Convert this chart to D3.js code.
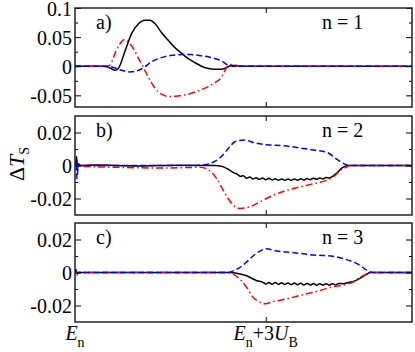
<!DOCTYPE html>
<html>
<head>
<meta charset="utf-8">
<script src="https://cdn.jsdelivr.net/npm/d3@7"></script>
<style>
  body { margin: 0; background: #fff; }
  svg { display: block; }
  text { font-family: "Liberation Serif", "Times New Roman", serif; fill: #000; }
</style>
</head>
<body>
<div id="chart"></div>
<script>
// x in units of U_B measured from E_n
const xDomain = [0, 5.3];

// panel a) n = 1
const aBlack = [[0,0],[0.45,0],[0.5,-0.001],[0.55,-0.003],[0.63,-0.007],[0.68,-0.004],[0.79,0.027],[0.89,0.056],[1.0,0.073],[1.1,0.079],[1.18,0.079],[1.26,0.073],[1.36,0.058],[1.47,0.044],[1.57,0.032],[1.68,0.022],[1.78,0.013],[1.89,0.006],[1.99,0.0],[2.1,-0.004],[2.2,-0.005],[2.31,-0.005],[2.41,-0.001],[2.46,0.0015],[2.57,0.0005],[2.67,0],[5.3,0]];
const aRed = [[0,0],[0.5,0],[0.55,0.002],[0.63,0.022],[0.71,0.039],[0.78,0.046],[0.84,0.041],[0.92,0.03],[1.0,0.013],[1.07,-0.001],[1.15,-0.018],[1.26,-0.038],[1.36,-0.048],[1.49,-0.052],[1.62,-0.051],[1.78,-0.048],[1.94,-0.042],[2.1,-0.035],[2.2,-0.028],[2.31,-0.018],[2.36,-0.007],[2.4,0],[2.46,0.003],[2.57,0.001],[2.67,0],[5.3,0]];
const aBlue = [[0,0],[0.52,0],[0.63,-0.003],[0.73,-0.007],[0.86,-0.0097],[1.0,-0.007],[1.1,-0.001],[1.2,0.0074],[1.36,0.0148],[1.52,0.0187],[1.68,0.02],[1.83,0.02],[1.99,0.018],[2.15,0.0148],[2.31,0.009],[2.41,0.0017],[2.52,0],[5.3,0]];

// panel b) n = 2
const bBlack = [[0,0],[0.01,0.001],[0.025,0.0055],[0.04,-0.002],[0.055,0.001],[0.08,0],[0.3,0.0003],[1.0,-0.0003],[1.6,0.0002],[2.2,0],[2.3,-0.0004],[2.4,-0.002],[2.5,-0.0045],
  [2.55,-0.0052],[2.6,-0.0066],[2.65,-0.0062],[2.7,-0.0078],[2.75,-0.0070],[2.8,-0.0082],[2.85,-0.0074],[2.9,-0.0084],[2.95,-0.0076],[3.0,-0.0086],[3.05,-0.0078],[3.1,-0.0088],[3.15,-0.0080],[3.2,-0.0090],[3.25,-0.0082],[3.3,-0.0090],[3.35,-0.0082],[3.4,-0.0090],[3.45,-0.0082],[3.5,-0.0089],[3.55,-0.0081],[3.6,-0.0088],[3.65,-0.0079],[3.7,-0.0086],[3.75,-0.0077],[3.8,-0.0084],[3.85,-0.0075],[3.9,-0.0082],[3.95,-0.0072],[4.0,-0.0076],[4.05,-0.0066],[4.12,-0.0045],[4.2,-0.0015],[4.3,0],[5.3,0]];
const bRed = [[0,0],[0.02,0.001],[0.04,-0.002],[0.07,-0.0005],[0.3,-0.0008],[0.8,-0.0012],[1.3,-0.0015],[1.8,-0.0012],[1.96,-0.001],[2.07,-0.002],[2.23,-0.008],[2.36,-0.017],[2.49,-0.024],[2.59,-0.026],[2.75,-0.025],[2.91,-0.022],[3.12,-0.018],[3.33,-0.015],[3.54,-0.013],[3.75,-0.011],[3.96,-0.009],[4.06,-0.007],[4.17,-0.003],[4.27,-0.001],[4.32,0],[5.3,0]];
const bBlue = [[0,0],[0.015,0.003],[0.03,-0.008],[0.045,-0.002],[0.06,0.0005],[0.09,0],[1.9,0],[2.07,0.0006],[2.17,0.002],[2.28,0.0046],[2.44,0.0116],[2.52,0.0146],[2.67,0.0155],[2.8,0.014],[3.01,0.0126],[3.28,0.012],[3.54,0.0106],[3.75,0.0094],[3.96,0.008],[4.11,0.004],[4.27,0.0004],[4.32,0],[5.3,0]];

// panel c) n = 3
const cBlack = [[0,0],[2.45,0],[2.54,-0.0005],[2.7,-0.002],[2.86,-0.005],[2.96,-0.006],
  [3.0,-0.0070],[3.05,-0.0060],[3.1,-0.0071],[3.15,-0.0061],[3.2,-0.0072],[3.25,-0.0062],[3.3,-0.0072],[3.35,-0.0063],[3.4,-0.0073],[3.45,-0.0064],[3.5,-0.0074],[3.55,-0.0065],[3.6,-0.0075],[3.65,-0.0066],[3.7,-0.0076],[3.75,-0.0067],[3.8,-0.0077],[3.85,-0.0068],[3.9,-0.0077],[3.95,-0.0068],[4.0,-0.0077],[4.05,-0.0068],[4.1,-0.0076],[4.15,-0.0066],[4.22,-0.0068],[4.3,-0.0060],[4.38,-0.0054],[4.48,-0.0036],[4.59,-0.001],[4.64,0],[5.3,0]];
const cRed = [[0,0],[0.02,0.0005],[0.04,-0.0005],[0.06,0],[2.4,0],[2.49,-0.001],[2.59,-0.004],[2.7,-0.009],[2.8,-0.015],[2.91,-0.018],[2.99,-0.019],[3.12,-0.0176],[3.28,-0.0164],[3.49,-0.0144],[3.7,-0.0124],[3.85,-0.011],[4.06,-0.0086],[4.22,-0.0076],[4.38,-0.0056],[4.48,-0.003],[4.59,-0.0008],[4.64,0],[5.3,0]];
const cBlue = [[0,0],[0.015,0.002],[0.03,-0.0015],[0.05,0],[2.4,0],[2.49,0.001],[2.59,0.003],[2.7,0.0064],[2.8,0.01],[2.91,0.013],[3.01,0.0144],[3.17,0.013],[3.33,0.0124],[3.54,0.0116],[3.75,0.0106],[3.85,0.0104],[4.06,0.0098],[4.27,0.0078],[4.48,0.0044],[4.59,0.0014],[4.69,0],[5.3,0]];

const panels = [
  {tag: "a)", n: "n = 1", top: 8, domain: [-0.07, 0.1], major: [-0.05, 0, 0.05, 0.1], minor: [-0.025, 0.025, 0.075], series: [aBlack, aRed, aBlue]},
  {tag: "b)", n: "n = 2", top: 116, domain: [-0.03, 0.03], major: [-0.02, 0, 0.02], minor: [-0.01, 0.01], series: [bBlack, bRed, bBlue]},
  {tag: "c)", n: "n = 3", top: 223, domain: [-0.03, 0.03], major: [-0.02, 0, 0.02], minor: [-0.01, 0.01], series: [cBlack, cRed, cBlue]}
];
const xTicks = [3];

const width = 415, height = 352;
const left = 75, right = 412, panelH = 99;
const styles = [
  {color: "#000", dash: null},
  {color: "#ff0000", dash: "7,3,1.5,3"},
  {color: "#0000ff", dash: "6,3"}
];

const svg = d3.select("#chart").append("svg")
    .attr("width", width)
    .attr("height", height);

const x = d3.scaleLinear().domain(xDomain).range([left, right]);

panels.forEach((p, i) => {
  const y = d3.scaleLinear().domain(p.domain).range([p.top + panelH, p.top]);
  const g = svg.append("g");

  // clip the curves to the frame
  g.append("clipPath").attr("id", "clip" + i)
    .append("rect")
      .attr("x", left).attr("y", p.top)
      .attr("width", right - left).attr("height", panelH);

  const line = d3.line()
      .x(d => x(d[0]))
      .y(d => y(d[1]))
      .curve(d3.curveMonotoneX);

  g.append("g")
      .attr("clip-path", `url(#clip${i})`)
    .selectAll("path")
    .data(p.series)
    .join("path")
      .attr("fill", "none")
      .attr("stroke", (d, j) => styles[j].color)
      .attr("stroke-width", 1.5)
      .attr("stroke-dasharray", (d, j) => styles[j].dash)
      .attr("d", line);

  // left axis with labels, ticks pointing inward
  g.append("g")
      .attr("transform", `translate(${left},0)`)
      .call(d3.axisLeft(y).tickValues(p.major).tickSize(-6).tickPadding(3).tickFormat(d => String(d)))
      .call(a => a.select(".domain").remove())
      .call(a => a.selectAll("text").attr("dy", "0.37em").style("font-family", "Liberation Serif").style("font-size", "20px").attr("fill", "#000"));
  g.append("g")
      .attr("transform", `translate(${left},0)`)
      .call(d3.axisLeft(y).tickValues(p.minor).tickSize(-3).tickFormat(""))
      .call(a => a.select(".domain").remove());

  // right axis mirror ticks
  g.append("g")
      .attr("transform", `translate(${right},0)`)
      .call(d3.axisRight(y).tickValues(p.major).tickSize(-6).tickFormat(""))
      .call(a => a.select(".domain").remove());
  g.append("g")
      .attr("transform", `translate(${right},0)`)
      .call(d3.axisRight(y).tickValues(p.minor).tickSize(-3).tickFormat(""))
      .call(a => a.select(".domain").remove());

  // top and bottom x ticks
  g.append("g")
      .attr("transform", `translate(0,${p.top})`)
      .call(d3.axisTop(x).tickValues(xTicks).tickSize(-5).tickFormat(""))
      .call(a => a.select(".domain").remove());
  g.append("g")
      .attr("transform", `translate(0,${p.top + panelH})`)
      .call(d3.axisBottom(x).tickValues(xTicks).tickSize(-5).tickFormat(""))
      .call(a => a.select(".domain").remove());

  g.selectAll(".tick line").attr("stroke", "#000").attr("stroke-width", 1);

  // frame
  g.append("rect")
      .attr("x", left).attr("y", p.top)
      .attr("width", right - left).attr("height", panelH)
      .attr("fill", "none")
      .attr("stroke", "#222")
      .attr("stroke-width", 1.5);

  g.append("text")
      .attr("x", left + 21).attr("y", p.top + 21)
      .style("font-size", "20px")
      .text(p.tag);

  g.append("text")
      .attr("x", 322).attr("y", p.top + 21)
      .style("font-size", "20px")
      .text(p.n);
});

// y label: ΔT_S
const yl = svg.append("text")
    .attr("transform", "translate(24,164) rotate(-90)")
    .attr("text-anchor", "middle")
    .style("font-size", "22px");
yl.append("tspan").text("Δ");
yl.append("tspan").style("font-style", "italic").text("T");
yl.append("tspan").attr("dy", 5).style("font-size", "14px").text("S");

// x labels
const x0 = svg.append("text")
    .attr("x", x(0)).attr("y", 340)
    .attr("text-anchor", "middle")
    .style("font-size", "20px");
x0.append("tspan").style("font-style", "italic").text("E");
x0.append("tspan").attr("dy", 7).style("font-size", "14px").text("n");

const x3 = svg.append("text")
    .attr("x", x(3)).attr("y", 340)
    .attr("text-anchor", "middle")
    .style("font-size", "20px");
x3.append("tspan").style("font-style", "italic").text("E");
x3.append("tspan").attr("dy", 7).style("font-size", "14px").text("n");
x3.append("tspan").attr("dy", -7).text("+3");
x3.append("tspan").style("font-style", "italic").text("U");
x3.append("tspan").attr("dy", 7).style("font-size", "14px").text("B");
</script>
</body>
</html>
